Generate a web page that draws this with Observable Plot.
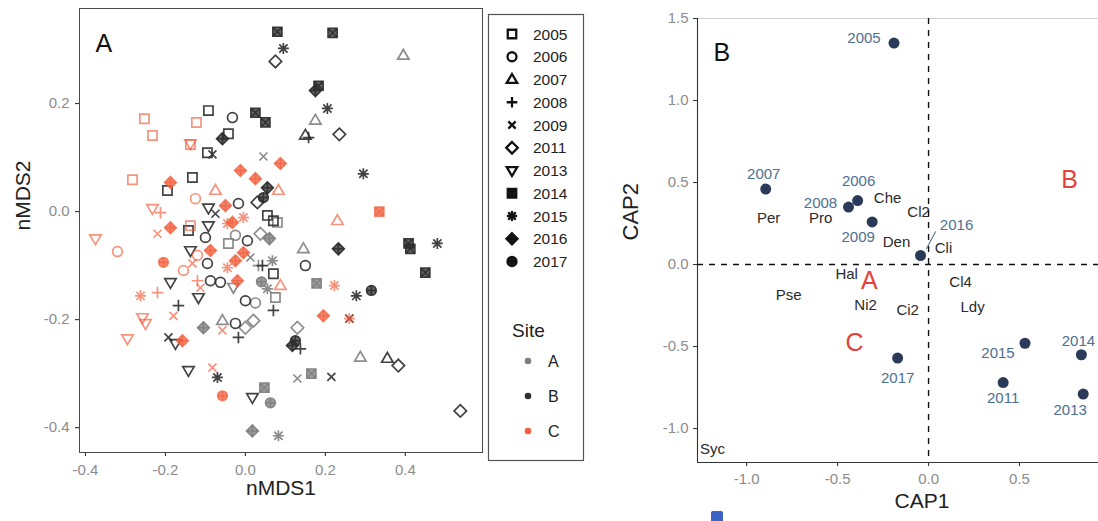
<!DOCTYPE html>
<html><head><meta charset="utf-8">
<script src="https://cdn.jsdelivr.net/npm/d3@7"></script>
<script src="https://cdn.jsdelivr.net/npm/@observablehq/plot@0.6"></script>
<style>
html,body{margin:0;padding:0;background:#fff;overflow:hidden;}
#wrap{position:relative;width:1098px;height:521px;overflow:hidden;font-family:"Liberation Sans",Arial,sans-serif;}
#panelA{position:absolute;left:0;top:0;width:486px;}
#legend{position:absolute;left:486px;top:0;}
#panelB{position:absolute;left:600px;top:0;width:520px;}
#panelA svg,#panelB svg{max-width:none !important;}
#icon{position:absolute;left:711px;top:511px;width:12px;height:12px;background:#3b63c5;border-radius:2px;}
</style></head>
<body><div id="wrap"><div id="panelA"></div><div id="legend"></div><div id="panelB"></div><div id="icon"></div></div>
<script>
// ---------- Panel A data (nMDS) ----------
const years = ["2005","2006","2007","2008","2009","2011","2013","2014","2015","2016","2017"];
const filledYears = ["2014","2016","2017"];
const sites = ["A","B","C"];
const siteColors = ["#7f7f7f","#2e2e2e","#f2603f"];

const siteAPoints = [
  ["2007",0.395,0.289],["2007",0.175,0.169],["2009",0.045,0.102],["2007",0.145,-0.069],
  ["2014",0.178,-0.133],["2015",0.055,-0.143],["2011",0.13,-0.215],["2007",0.2875,-0.27],
  ["2009",0.13,-0.309],["2014",0.165,-0.3],["2014",0.0475,-0.326],["2017",0.0625,-0.354],
  ["2016",0.0175,-0.406],["2015",0.0825,-0.415],["2005",-0.0425,-0.059],["2006",-0.025,-0.044],
  ["2011",0.0375,-0.041],["2009",0.0125,-0.085],["2008",0.0325,-0.1],["2015",0.0675,-0.091],
  ["2006",0.025,-0.169],["2005",0.075,-0.159],["2016",-0.105,-0.215],["2007",-0.0575,-0.202],
  ["2011",0.0,-0.215],["2011",0.02,-0.202],["2005",0.08,-0.02],["2013",-0.03,-0.14],
  ["2017",0.04,-0.13],["2016",0.06,-0.05]
];
const siteBPoints = [
  ["2014",0.08,0.333],["2014",0.218,0.331],["2015",0.095,0.302],["2011",0.075,0.278],
  ["2016",0.175,0.224],["2014",0.183,0.233],["2015",0.205,0.191],["2008",0.158,0.137],
  ["2007",0.15,0.141],["2011",0.235,0.143],["2014",0.025,0.183],["2014",0.05,0.165],
  ["2015",0.295,0.07],["2014",0.4125,-0.069],["2014",0.408,-0.059],["2015",0.48,-0.059],
  ["2016",0.2325,-0.069],["2014",0.45,-0.113],["2006",0.15,-0.1],["2015",0.2775,-0.156],
  ["2017",0.315,-0.146],["2009",0.26,-0.198],["2005",0.07,-0.115],["2008",0.0425,-0.1],
  ["2008",0.07,-0.183],["2016",0.1175,-0.248],["2017",0.125,-0.239],["2008",0.1375,-0.254],
  ["2007",0.355,-0.272],["2011",0.3825,-0.285],["2009",0.215,-0.306],["2013",0.0175,-0.344],
  ["2011",0.5375,-0.369],["2005",-0.0925,0.187],["2006",-0.0325,0.174],["2016",-0.0575,0.135],
  ["2005",-0.0425,0.144],["2005",-0.095,0.109],["2009",-0.0825,0.106],["2005",-0.1325,0.063],
  ["2005",-0.195,0.039],["2016",0.055,0.044],["2017",0.045,0.026],["2011",0.03,0.017],
  ["2006",-0.0175,0.015],["2013",-0.0925,0.007],["2009",-0.075,-0.004],["2005",0.055,-0.007],
  ["2005",0.07,-0.017],["2005",-0.1425,-0.035],["2013",-0.0925,-0.026],["2006",-0.1,-0.048],
  ["2006",0.005,-0.054],["2013",-0.1375,-0.072],["2006",-0.095,-0.096],["2013",-0.1875,-0.131],
  ["2006",-0.0875,-0.128],["2006",-0.0625,-0.131],["2013",-0.1175,-0.159],["2008",-0.1675,-0.174],
  ["2006",0.0,-0.165],["2006",-0.025,-0.207],["2008",-0.0175,-0.233],["2009",-0.1925,-0.233],
  ["2013",-0.175,-0.244],["2013",-0.1425,-0.294],["2015",-0.07,-0.307]
];
const siteCPoints = [
  ["2016",0.0875,0.089],["2014",0.335,0.0],["2007",0.23,-0.017],["2015",0.2225,-0.137],
  ["2016",0.195,-0.193],["2015",0.26,-0.198],["2007",0.0875,-0.137],["2005",-0.2525,0.172],
  ["2005",-0.2325,0.141],["2005",-0.1225,0.165],["2005",-0.1375,0.124],["2013",-0.1375,0.126],
  ["2005",-0.2825,0.059],["2016",-0.0125,0.076],["2016",0.025,0.061],["2016",-0.1875,0.054],
  ["2007",-0.075,0.039],["2006",-0.125,0.024],["2007",0.0825,0.039],["2013",-0.2325,0.006],
  ["2008",-0.2125,-0.002],["2016",-0.05,0.011],["2015",-0.005,-0.011],["2016",-0.0325,-0.02],
  ["2009",-0.22,-0.041],["2016",-0.1875,-0.03],["2005",-0.1375,-0.026],["2015",-0.045,-0.022],
  ["2006",-0.12,-0.081],["2016",-0.0875,-0.072],["2016",-0.005,-0.076],["2017",-0.205,-0.094],
  ["2006",-0.155,-0.109],["2009",-0.1325,-0.096],["2015",-0.045,-0.104],["2016",-0.025,-0.091],
  ["2016",-0.02,-0.128],["2008",-0.12,-0.128],["2009",-0.1125,-0.141],["2015",-0.2625,-0.156],
  ["2008",-0.22,-0.15],["2009",-0.18,-0.193],["2013",-0.2575,-0.196],["2013",-0.25,-0.207],
  ["2009",-0.0575,-0.22],["2013",-0.295,-0.235],["2016",-0.1575,-0.239],["2009",-0.0825,-0.289],
  ["2017",-0.0575,-0.341],["2013",-0.375,-0.05],["2006",-0.32,-0.074]
];
const nmdsXTicks = [-0.4,-0.2,0.0,0.2,0.4];
const nmdsYTicks = [-0.4,-0.2,0.0,0.2];

// ---------- Panel B data (CAP) ----------
const capYears = ["2005","2006","2007","2008","2009","2011","2013","2014","2015","2016","2017"];
const cap1 = [-0.19,-0.39,-0.895,-0.44,-0.31,0.41,0.85,0.84,0.53,-0.044,-0.17];
const cap2 = [1.35,0.39,0.46,0.35,0.26,-0.72,-0.79,-0.55,-0.48,0.055,-0.57];
const speciesNames = ["Per","Pro","Che","Cl2","Den","Cli","Hal","Ni2","Ci2","Cl4","Ldy","Pse","Syc"];
const speciesCap1 = [-0.879,-0.593,-0.225,-0.055,-0.176,0.082,-0.45,-0.346,-0.115,0.176,0.242,-0.769,-1.187];
const speciesCap2 = [0.28,0.28,0.402,0.317,0.134,0.098,-0.06,-0.25,-0.28,-0.11,-0.262,-0.189,-1.128];
const siteNamesB = ["A","B","C"];
const siteCap1 = [-0.325,0.775,-0.407];
const siteCap2 = [-0.1,0.518,-0.476];
const capXTicks = [-1.0,-0.5,0.0,0.5];
const capYTicks = [-1.0,-0.5,0.0,0.5,1.0,1.5];

// ---------- custom ggplot-like symbols ----------
const R = s => Math.sqrt(s/Math.PI);
const sqPath = (c,r)=>{c.moveTo(-r,-r);c.lineTo(r,-r);c.lineTo(r,r);c.lineTo(-r,r);c.closePath();};
const circPath = (c,r)=>{c.moveTo(r,0);c.arc(0,0,r,0,2*Math.PI);};
const diaPath = (c,r)=>{c.moveTo(0,-r);c.lineTo(r,0);c.lineTo(0,r);c.lineTo(-r,0);c.closePath();};
const plusPath = (c,r)=>{c.moveTo(-r,0);c.lineTo(r,0);c.moveTo(0,-r);c.lineTo(0,r);};
const timesPath = (c,r)=>{c.moveTo(-r,-r);c.lineTo(r,r);c.moveTo(-r,r);c.lineTo(r,-r);};
const symbols = [
  {draw(c,s){sqPath(c,R(s)*0.92);}},
  {draw(c,s){circPath(c,R(s)*0.98);}},
  {draw(c,s){const r=R(s)*1.2;c.moveTo(0,-r);c.lineTo(r*0.95,r*0.62);c.lineTo(-r*0.95,r*0.62);c.closePath();}},
  {draw(c,s){plusPath(c,R(s)*1.15);}},
  {draw(c,s){timesPath(c,R(s)*0.8);}},
  {draw(c,s){diaPath(c,R(s)*1.25);}},
  {draw(c,s){const r=R(s)*1.2;c.moveTo(0,r);c.lineTo(r*0.95,-r*0.62);c.lineTo(-r*0.95,-r*0.62);c.closePath();}},
  {draw(c,s){const r=R(s)*0.92;sqPath(c,r);timesPath(c,r);}},
  {draw(c,s){const r=R(s)*1.1;plusPath(c,r);timesPath(c,r*0.75);}},
  {draw(c,s){const r=R(s)*1.2;diaPath(c,r);plusPath(c,r);}},
  {draw(c,s){const r=R(s)*0.98;circPath(c,r);plusPath(c,r);}}
];

const nmds = [
  ...siteAPoints.map(([year,x,y])=>({site:"A",year,x,y})),
  ...siteBPoints.map(([year,x,y])=>({site:"B",year,x,y})),
  ...siteCPoints.map(([year,x,y])=>({site:"C",year,x,y}))
];
const openPts = nmds.filter(d => !filledYears.includes(d.year));
const solidPts = nmds.filter(d => filledYears.includes(d.year));
const fmt = d => d.toFixed(1);
const FONT = '"Liberation Sans", Arial, sans-serif';

// ---------- Panel A ----------
const pA = Plot.plot({
  width: 486, height: 521,
  marginLeft: 79, marginRight: 4, marginTop: 8, marginBottom: 69,
  style: {fontFamily: FONT, background: "transparent", color: "#222", maxWidth: "none"},
  x: {domain: [-0.415, 0.593]},
  y: {domain: [-0.446, 0.376]},
  symbol: {domain: years, range: symbols},
  color: {domain: sites, range: siteColors},
  marks: [
    Plot.frame({stroke: "#4a4a4a", strokeWidth: 1}),
    Plot.axisX({ticks: nmdsXTicks, tickFormat: fmt, tickSize: 4, tickPadding: 8, color: "#8c8c8c", fontSize: 15, label: null}),
    Plot.axisX({ticks: nmdsXTicks, tickFormat: () => "", tickSize: 4, stroke: "#333", label: null}),
    Plot.axisY({ticks: nmdsYTicks, tickFormat: fmt, tickSize: 4, tickPadding: 6, color: "#8c8c8c", fontSize: 15, label: null}),
    Plot.axisY({ticks: nmdsYTicks, tickFormat: () => "", tickSize: 4, stroke: "#333", label: null}),
    Plot.dot(openPts, {x: "x", y: "y", symbol: "year", stroke: "site", fill: "none", r: 5, strokeWidth: 1.7,
      strokeOpacity: d => d.site === "C" ? 0.68 : 0.9}),
    Plot.dot(solidPts, {x: "x", y: "y", symbol: "year", stroke: "site", fill: "site", r: 5, strokeWidth: 1.5,
      fillOpacity: 0.75, strokeOpacity: d => d.site === "C" ? 0.75 : 0.95}),
    Plot.text(["A"], {text: d => d, frameAnchor: "top-left", dx: 16, dy: 26, textAnchor: "start", fontSize: 25, fill: "#111"}),
    Plot.text(["nMDS1"], {text: d => d, frameAnchor: "bottom", dy: 42, fontSize: 21, fill: "#222"}),
    Plot.text(["nMDS2"], {text: d => d, frameAnchor: "left", dx: -56, rotate: -90, fontSize: 21, fill: "#222"})
  ]
});
document.getElementById("panelA").appendChild(pA);

// ---------- Legend ----------
(function(){
  const svg = d3.select("#legend").append("svg").attr("width", 102).attr("height", 470)
    .style("font-family", FONT);
  svg.append("rect").attr("x", 2.5).attr("y", 14.5).attr("width", 95).attr("height", 446)
    .attr("fill", "#fff").attr("stroke", "#555").attr("stroke-width", 1.2);
  years.forEach((yr, i) => {
    const yy = 34 + i * 22.75;
    const solid = filledYears.includes(yr);
    svg.append("path").attr("d", d3.symbol(symbols[i], Math.PI * 4.6 * 4.6)())
      .attr("transform", `translate(26,${yy})`).attr("fill", solid ? "#222" : "none")
      .attr("stroke", "#111").attr("stroke-width", 2.3);
    svg.append("text").attr("x", 47).attr("y", yy).attr("dy", "0.36em").attr("font-size", 15.5).attr("fill", "#222").text(yr);
  });
  svg.append("text").attr("x", 26).attr("y", 330).attr("dy", "0.36em").attr("font-size", 19).attr("fill", "#222").text("Site");
  sites.forEach((s, i) => {
    const yy = 361 + i * 35;
    svg.append("circle").attr("cx", 42).attr("cy", yy).attr("r", 3.3).attr("fill", siteColors[i]);
    svg.append("text").attr("x", 62).attr("y", yy).attr("dy", "0.36em").attr("font-size", 16).attr("fill", "#222").text(s);
  });
})();

// ---------- Panel B ----------
const capData = capYears.map((year, i) => ({year, cap1: cap1[i], cap2: cap2[i]}));
const species = speciesNames.map((name, i) => ({name, cap1: speciesCap1[i], cap2: speciesCap2[i]}));
const siteLetters = siteNamesB.map((name, i) => ({name, cap1: siteCap1[i], cap2: siteCap2[i]}));
const labelOffset = {
  "2005": [-30, -5], "2006": [1, -19], "2007": [-2, -15], "2008": [-28, -4], "2009": [-14, 15],
  "2011": [0, 16], "2013": [-13, 16], "2014": [-3, -14], "2015": [-27, 10], "2016": [36, -30], "2017": [0, 20]
};
const xDomB = [-1.27, 1.0], yDomB = [-1.207, 1.5];
const yearColor = "#4d6f92";
const pB = Plot.plot({
  width: 520, height: 521,
  marginLeft: 97, marginRight: 10, marginTop: 18, marginBottom: 59,
  style: {fontFamily: FONT, background: "transparent", color: "#222", maxWidth: "none"},
  x: {domain: xDomB},
  y: {domain: yDomB},
  marks: [
    Plot.frame({stroke: "#c4c4c4", strokeWidth: 0.8}),
    Plot.ruleX([xDomB[0]], {stroke: "#333", strokeWidth: 1.1}),
    Plot.ruleY([yDomB[0]], {stroke: "#333", strokeWidth: 1.1}),
    Plot.axisX({ticks: capXTicks, tickFormat: fmt, tickSize: 4, tickPadding: 7, color: "#8c8c8c", fontSize: 15, label: null}),
    Plot.axisX({ticks: capXTicks, tickFormat: () => "", tickSize: 4, stroke: "#333", label: null}),
    Plot.axisY({ticks: capYTicks, tickFormat: fmt, tickSize: 4, tickPadding: 5, color: "#8c8c8c", fontSize: 15, label: null}),
    Plot.axisY({ticks: capYTicks, tickFormat: () => "", tickSize: 4, stroke: "#333", label: null}),
    Plot.ruleX([0], {stroke: "#111", strokeWidth: 1.4, strokeDasharray: "6,6"}),
    Plot.ruleY([0], {stroke: "#111", strokeWidth: 1.4, strokeDasharray: "6,6"}),
    Plot.vector(capData.filter(d => d.year === "2016"), {x: "cap1", y: "cap2", length: 19, rotate: 28, anchor: "start",
      dx: 6, dy: -7, stroke: yearColor, strokeWidth: 1,
      shape: {draw(c, l){ c.moveTo(0, 0); c.lineTo(0, -l); }}}),
    Plot.dot(capData, {x: "cap1", y: "cap2", r: 5.5, fill: "#2b3a58"}),
    ...capYears.map(yr => Plot.text(capData.filter(d => d.year === yr), {x: "cap1", y: "cap2", text: "year",
      dx: labelOffset[yr][0], dy: labelOffset[yr][1], fill: yearColor, fontSize: 15})),
    Plot.text(species, {x: "cap1", y: "cap2", text: "name", fill: "#2a2a2a", fontSize: 15}),
    Plot.text(siteLetters, {x: "cap1", y: "cap2", text: "name", fill: "#e2423a", fontSize: 25}),
    Plot.text(["B"], {text: d => d, frameAnchor: "top-left", dx: 16, dy: 25, textAnchor: "start", fontSize: 25, fill: "#111"}),
    Plot.text(["CAP1"], {text: d => d, frameAnchor: "bottom-left", dx: 197, dy: 45, fontSize: 21, fill: "#222"}),
    Plot.text(["CAP2"], {text: d => d, frameAnchor: "left", dx: -67, rotate: -90, fontSize: 22, fill: "#222"})
  ]
});
document.getElementById("panelB").appendChild(pB);
</script>
</body></html>
